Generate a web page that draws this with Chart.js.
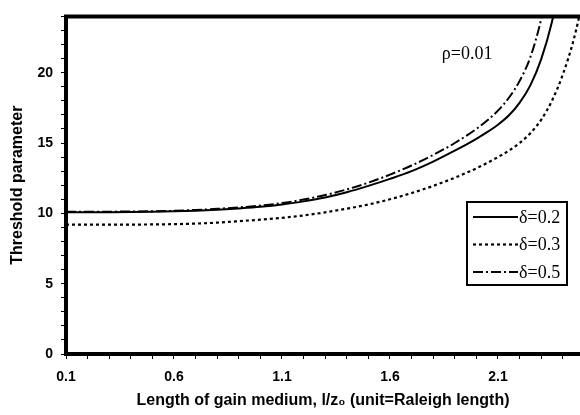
<!DOCTYPE html>
<html>
<head>
<meta charset="utf-8">
<script src="https://cdn.jsdelivr.net/npm/chart.js@4"></script>
<style>
  body { margin: 0; background: #fff; }
</style>
</head>
<body>
<canvas id="thresholdChart" width="580" height="415"></canvas>
<script>
// gain medium length l/z0 (Raleigh lengths)
const lengthPts = [0.1, 0.2, 0.3, 0.4, 0.5, 0.6, 0.7, 0.8, 0.9, 1.0, 1.1, 1.2, 1.3, 1.4, 1.5,
                   1.6, 1.7, 1.8, 1.9, 2.0, 2.05, 2.1, 2.15, 2.2, 2.25, 2.3, 2.35, 2.4, 2.45, 2.5];

// threshold parameter (rho = 0.01)
const delta02 = [10.08, 10.08, 10.08, 10.09, 10.11, 10.14, 10.19, 10.26, 10.35, 10.46, 10.62, 10.85, 11.13, 11.5, 11.95,
                 12.45, 13.0, 13.68, 14.45, 15.3, 15.77, 16.3, 16.95, 17.85, 19.1, 20.95, 23.6, 27.5, null, null];
const delta03 = [9.2, 9.2, 9.2, 9.2, 9.21, 9.23, 9.27, 9.34, 9.44, 9.55, 9.68, 9.85, 10.07, 10.33, 10.63,
                 11.0, 11.44, 11.95, 12.53, 13.2, 13.58, 14.0, 14.45, 15.0, 15.7, 16.65, 18.0, 19.85, 22.3, 25.6];
const delta05 = [10.12, 10.12, 10.12, 10.13, 10.15, 10.18, 10.24, 10.32, 10.42, 10.55, 10.73, 10.98, 11.3, 11.7, 12.18,
                 12.75, 13.4, 14.15, 15.0, 16.0, 16.6, 17.3, 18.2, 19.4, 21.1, 23.8, 27.8, null, null, null];

const seriesLabels = ['δ=0.2', 'δ=0.3', 'δ=0.5'];
const xMajorTicks = [0.1, 0.6, 1.1, 1.6, 2.1];
const yMajorTicks = [0, 5, 10, 15, 20];

const toPoints = ys => lengthPts.map((x, i) => ({ x: x, y: ys[i] }));

// heavy frame lines, rho label and boxed legend inside the plot
const framePlugin = {
  id: 'frame',
  afterDatasetsDraw(chart) {
    const { ctx, chartArea, scales } = chart;
    ctx.save();
    ctx.strokeStyle = '#000';
    ctx.lineWidth = 4;
    ctx.beginPath();
    ctx.moveTo(chartArea.right, chartArea.top);
    ctx.lineTo(chartArea.left, chartArea.top);
    ctx.lineTo(chartArea.left, chartArea.bottom);
    ctx.lineTo(chartArea.right, chartArea.bottom);
    ctx.stroke();

    ctx.fillStyle = '#000';
    ctx.font = '18px "Liberation Serif", "Times New Roman", serif';
    ctx.textBaseline = 'middle';
    ctx.textAlign = 'left';
    ctx.fillText('ρ=0.01', scales.x.getPixelForValue(1.84), scales.y.getPixelForValue(21.3));

    // legend
    const bx = chartArea.right - 113, by = 202, bw = 100, bh = 83;
    ctx.lineWidth = 2;
    ctx.strokeRect(bx, by, bw, bh);
    chart.data.datasets.forEach((ds, i) => {
      const yy = by + 15 + i * 27.5;
      ctx.lineWidth = ds.borderWidth;
      ctx.setLineDash(ds.borderDash || []);
      ctx.beginPath();
      ctx.moveTo(bx + 6, yy);
      ctx.lineTo(bx + 51, yy);
      ctx.stroke();
      ctx.setLineDash([]);
      ctx.fillText(ds.label, bx + 52, yy + 1);
    });
    ctx.restore();
  }
};

new Chart(document.getElementById('thresholdChart'), {
  type: 'line',
  data: {
    datasets: [
      { label: seriesLabels[0], data: toPoints(delta02), borderColor: '#000', borderWidth: 2, borderDash: [] },
      { label: seriesLabels[1], data: toPoints(delta03), borderColor: '#000', borderWidth: 2.2, borderDash: [3, 3] },
      { label: seriesLabels[2], data: toPoints(delta05), borderColor: '#000', borderWidth: 2, borderDash: [10, 3, 2, 3] }
    ]
  },
  options: {
    responsive: false,
    devicePixelRatio: 1,
    animation: false,
    layout: { padding: { top: 11, right: 0, left: 0, bottom: 0 } },
    elements: {
      point: { radius: 0 },
      line: { cubicInterpolationMode: 'monotone', fill: false }
    },
    plugins: { legend: { display: false }, tooltip: { enabled: false } },
    scales: {
      x: {
        type: 'linear',
        min: 0.1,
        max: 2.48,
        afterBuildTicks: s => {
          s.ticks = [];
          for (let i = 1; i <= 24; i++) s.ticks.push({ value: i / 10 });
        },
        afterFit: s => { s.height = 61; },
        border: { display: false },
        grid: { drawOnChartArea: false, color: '#000', tickLength: 5, tickWidth: 1 },
        ticks: {
          autoSkip: false,
          maxRotation: 0,
          padding: 10,
          color: '#000',
          font: { family: '"Liberation Sans", Arial, sans-serif', size: 14, weight: 'bold' },
          callback: v => xMajorTicks.some(m => Math.abs(m - v) < 1e-6) ? v.toFixed(1) : ''
        },
        title: {
          display: true,
          text: 'Length of gain medium, l/z₀ (unit=Raleigh length)',
          color: '#000',
          padding: { top: 0, bottom: 5 },
          font: { family: '"Liberation Sans", Arial, sans-serif', size: 16, weight: 'bold' }
        }
      },
      y: {
        min: 0,
        max: 24,
        afterBuildTicks: s => {
          s.ticks = [];
          for (let i = 0; i <= 24; i++) s.ticks.push({ value: i });
        },
        afterFit: s => { s.width = 66; },
        border: { display: false },
        grid: { drawOnChartArea: false, color: '#000', tickLength: 5, tickWidth: 1 },
        ticks: {
          autoSkip: false,
          padding: 8,
          color: '#000',
          font: { family: '"Liberation Sans", Arial, sans-serif', size: 14, weight: 'bold' },
          callback: v => yMajorTicks.includes(v) ? String(v) : ''
        },
        title: {
          display: true,
          text: 'Threshold parameter',
          color: '#000',
          padding: { top: 8, bottom: 0 },
          font: { family: '"Liberation Sans", Arial, sans-serif', size: 16, weight: 'bold' }
        }
      }
    }
  },
  plugins: [framePlugin]
});
</script>
</body>
</html>
